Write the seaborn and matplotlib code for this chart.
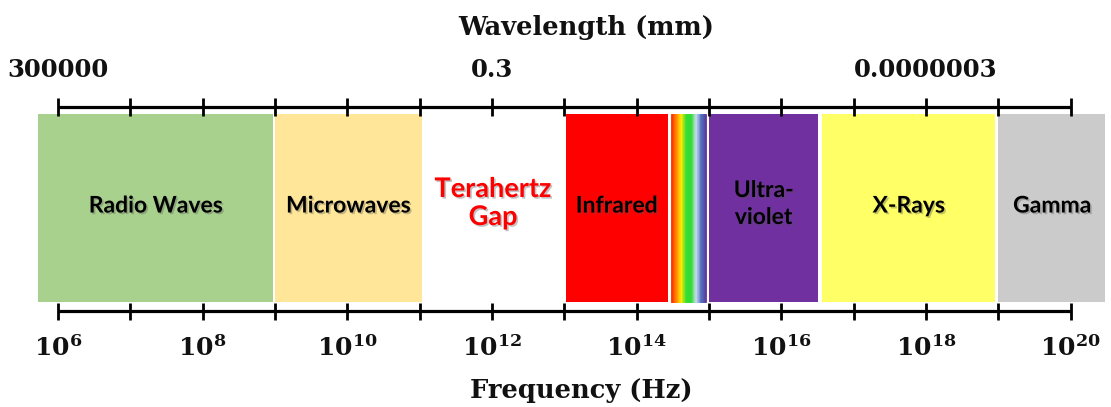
import numpy as np
import matplotlib
matplotlib.use("Agg")
import matplotlib.pyplot as plt
import matplotlib.patheffects as pe
from matplotlib.colors import LinearSegmentedColormap
import seaborn as sns

# ---- data (log10 of frequency in Hz) ----
band_names = ["Radio Waves", "Microwaves", "Terahertz\nGap", "Infrared", "",
              "Ultra-\nviolet", "X-Rays", "Gamma"]
band_start = [5.72, 9.00, 11.03, 13.02, 14.48, 15.00, 16.56, 19.00]
band_end = [8.98, 11.03, 13.00, 14.43, 14.96, 16.51, 18.96, 20.48]
band_colors = ["#A9D18E", "#FFE699", "#FFFFFF", "#FF0000", None,
               "#7030A0", "#FFFF66", "#CCCBCB"]
label_colors = ["black", "black", "#FF0000", "black", "black",
                "black", "black", "black"]

freq_exponents = list(range(6, 21))
freq_label_exponents = [6, 8, 10, 12, 14, 16, 18, 20]
wavelength_labels = ["300000", "0.3", "0.0000003"]
wavelength_exponents = [6, 12, 18]

visible_colors = ["#FF2A00", "#FF8A00", "#FFEC00", "#34DD34", "#34DD34",
                  "#CADCF0", "#5070C0", "#5A3C9E"]

# ---- style ----
sns.set_theme(style="white")
plt.rcParams["font.family"] = ["DejaVu Serif"]
plt.rcParams["mathtext.fontset"] = "dejavuserif"
plt.rcParams["mathtext.default"] = "bf"

W, H = 1111, 407
fig = plt.figure(figsize=(W / 100, H / 100), dpi=100)
ax = fig.add_axes([0, 0, 1, 1])
ax.set_xscale("log")
px0, ppd = 57.9, 72.34  # pixel of 1e6, pixels per decade
ax.set_xlim(10 ** (6 - px0 / ppd), 10 ** (6 + (W - px0) / ppd))
ax.set_ylim(H, 0)
ax.axis("off")

box_top, box_bot = 114, 302
box_mid, box_h = (box_top + box_bot) / 2, box_bot - box_top

shadow = [pe.SimplePatchShadow(offset=(1.2, -1.2), shadow_rgbFace="#555555", alpha=0.35),
          pe.Normal()]
label_size = {"Terahertz\nGap": 19.5}
label_spacing = {"Terahertz\nGap": 1.2, "Ultra-\nviolet": 1.35}
label_y = {"Terahertz\nGap": 203, "Ultra-\nviolet": 204}

for name, s, e, c, lc in zip(band_names, band_start, band_end, band_colors, label_colors):
    if c is not None:
        ax.barh(box_mid, 10 ** e - 10 ** s, left=10 ** s, height=box_h,
                color=c, edgecolor="none", linewidth=0)
    else:
        cmap = LinearSegmentedColormap.from_list("vis", visible_colors)
        n = 60
        edges = np.linspace(s, e, n + 1)
        for i in range(n):
            col = cmap((i + 0.5) / n)
            ax.barh(box_mid, 10 ** edges[i + 1] - 10 ** edges[i], left=10 ** edges[i],
                    height=box_h, color=col, edgecolor=col, linewidth=0.6)
    if name:
        xc = 10 ** ((s + e) / 2)
        ax.text(xc, label_y.get(name, 206), name, ha="center", va="center",
                fontsize=label_size.get(name, 16.5),
                fontfamily="Lato", fontweight="bold", color=lc,
                linespacing=label_spacing.get(name, 1.15), path_effects=shadow)

# ---- axes lines with ticks ----
x0, x1 = 10 ** freq_exponents[0], 10 ** freq_exponents[-1]
for ya, t0, t1 in [(107, 97.5, 116), (311, 302.5, 320)]:
    ax.hlines(ya, x0, x1, color="black", linewidth=2.3, capstyle="butt")
    ax.vlines([10 ** k for k in freq_exponents], t0, t1, color="black", linewidth=2.0)

# bottom tick labels
for k in freq_label_exponents:
    ax.text(10 ** k, 356, r"$10^{%d}$" % k, ha="center", va="baseline", fontsize=18,
            color="#111111")

# top wavelength labels
for lab, k in zip(wavelength_labels, wavelength_exponents):
    ax.text(10 ** k, 77, lab, ha="center", va="baseline", fontsize=17.5,
            fontweight="bold", color="#111111")

fig.text(586 / W, 1 - 35 / H, "Wavelength (mm)", ha="center", va="baseline",
         fontsize=18.5, fontweight="bold", color="#111111")
fig.text(581 / W, 1 - 398 / H, "Frequency (Hz)", ha="center", va="baseline",
         fontsize=18.5, fontweight="bold", color="#111111")

fig.savefig("out.png", dpi=100, facecolor="white")
